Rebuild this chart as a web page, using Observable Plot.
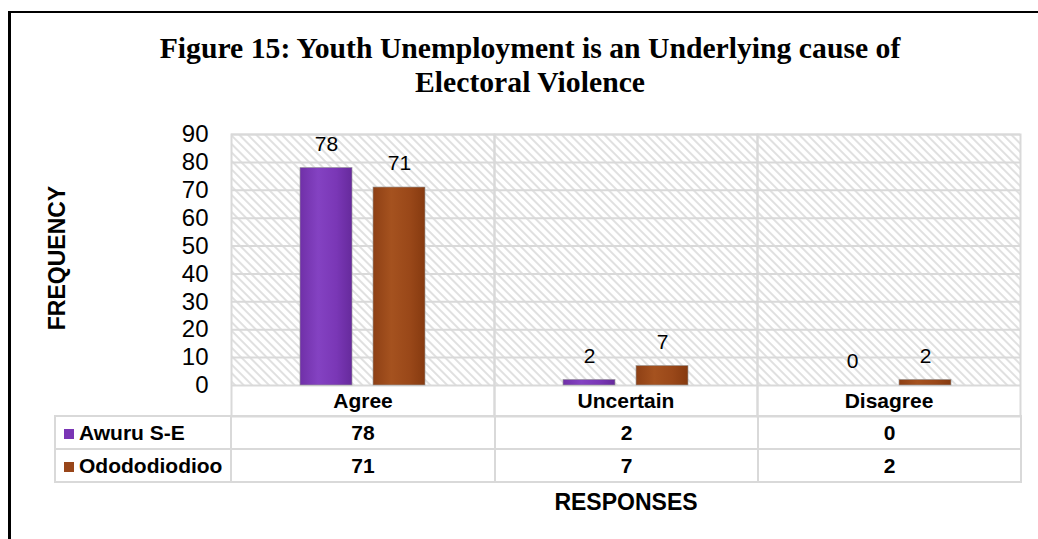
<!DOCTYPE html>
<html>
<head>
<meta charset="utf-8">
<script src="https://cdn.jsdelivr.net/npm/d3@7"></script>
<script src="https://cdn.jsdelivr.net/npm/@observablehq/plot@0.6"></script>
<style>
  html, body { margin: 0; padding: 0; background: #fff; }
  body { width: 1038px; height: 539px; overflow: hidden; position: relative; font-family: Arial, "Liberation Sans", sans-serif; }
  #frame { position: absolute; left: 8px; top: 11px; width: 1100px; height: 600px; border-left: 3px solid #000; border-top: 2px solid #000; }
  #title { position: absolute; left: 0; top: 31px; width: 1060px; text-align: center; font-family: "Liberation Serif", "Times New Roman", serif; font-weight: bold; font-size: 29.7px; line-height: 34px; color: #000; }
  #chart { position: absolute; left: 0; top: 110px; }
  #ylabel { position: absolute; left: 57px; top: 258px; transform: translate(-50%, -50%) rotate(-90deg); font-weight: bold; font-size: 23px; white-space: nowrap; }
  #xlabel { position: absolute; left: 626px; top: 502px; transform: translate(-50%, -50%); font-weight: bold; font-size: 23px; white-space: nowrap; }
  #table { position: absolute; left: 54px; top: 415px; border-collapse: collapse; table-layout: fixed; }
  #table td { border: 2px solid #d9d9d9; height: 31px; padding: 0; font-weight: bold; font-size: 21px; text-align: center; white-space: nowrap; }
  #table td.head { text-align: left; padding-left: 8px; }
  .key { display: inline-block; width: 10px; height: 10px; margin-right: 5px; vertical-align: 1px; }
</style>
</head>
<body>
<div id="frame"></div>
<div id="title">Figure 15: Youth Unemployment is an Underlying cause of<br>Electoral Violence</div>
<div id="chart"></div>
<div id="ylabel">FREQUENCY</div>
<table id="table"></table>
<div id="xlabel">RESPONSES</div>
<script>
const categories = ["Agree", "Uncertain", "Disagree"];
const series = ["Awuru S-E", "Odododiodioo"];
const awuruValues = [78, 2, 0];
const ododoValues = [71, 7, 2];
const yTicks = [0, 10, 20, 30, 40, 50, 60, 70, 80, 90];
const seriesColors = ["#7a35b5", "#98461a"];

const valuesBySeries = [awuruValues, ododoValues];
const data = [];
series.forEach((s, si) => categories.forEach((c, ci) => data.push({series: s, category: c, value: valuesBySeries[si][ci]})));

const defs = () => {
  const g = d3.create("svg:defs");
  g.html(`
    <pattern id="hatch" width="6" height="6" patternUnits="userSpaceOnUse" patternTransform="rotate(-45)">
      <rect width="6" height="6" fill="#ffffff"/>
      <line x1="1" y1="0" x2="1" y2="6" stroke="#d6d6d6" stroke-width="1.5"/>
    </pattern>
    <linearGradient id="gPurple" x1="0" x2="1" y1="0" y2="0">
      <stop offset="0" stop-color="#7030a8"/>
      <stop offset="0.35" stop-color="#8442c2"/>
      <stop offset="0.7" stop-color="#7a37b6"/>
      <stop offset="1" stop-color="#662a9c"/>
    </linearGradient>
    <linearGradient id="gBrown" x1="0" x2="1" y1="0" y2="0">
      <stop offset="0" stop-color="#8e4015"/>
      <stop offset="0.35" stop-color="#a5521f"/>
      <stop offset="0.7" stop-color="#9a4819"/>
      <stop offset="1" stop-color="#863a10"/>
    </linearGradient>`);
  return g.node();
};

const fills = {[series[0]]: "url(#gPurple)", [series[1]]: "url(#gBrown)"};

const chart = Plot.plot({
  width: 1038,
  height: 306,
  marginTop: 24,
  marginBottom: 31,
  marginLeft: 230,
  marginRight: 18,
  style: {fontFamily: "Arial, 'Liberation Sans', sans-serif", color: "#000", background: "transparent", overflow: "visible"},
  fx: {domain: categories, padding: 0, label: null},
  x: {domain: series, paddingInner: 0.29, paddingOuter: 0.934, axis: null},
  y: {domain: [0, 90], label: null},
  marks: [
    defs,
    Plot.frame({fill: "url(#hatch)"}),
    Plot.gridY(yTicks, {stroke: "#d9d9d9", strokeWidth: 2, strokeOpacity: 1}),
    Plot.frame({stroke: "#d9d9d9", strokeWidth: 2, insetBottom: -31}),
    ...series.map(s => Plot.barY(data.filter(d => d.series === s), {
      fx: "category", x: "series", y: "value", fill: fills[s], stroke: "#9a9a9a", strokeWidth: 0.8, strokeOpacity: 0.8
    })),
    Plot.text(data, {fx: "category", x: "series", y: "value", text: d => String(d.value), dy: -24, fontSize: 21, fill: "#000"}),
    Plot.axisY(yTicks, {tickSize: 0, tickPadding: 23, fontSize: 24, label: null}),
    Plot.axisFx({anchor: "bottom", tickSize: 0, tickPadding: 8, fontSize: 21, fontWeight: "bold", label: null})
  ]
});
document.getElementById("chart").appendChild(chart);

// data table under the chart
const table = document.getElementById("table");
const colgroup = document.createElement("colgroup");
[176, 264, 263, 263].forEach(w => { const col = document.createElement("col"); col.style.width = w + "px"; colgroup.appendChild(col); });
table.appendChild(colgroup);
series.forEach((s, si) => {
  const tr = document.createElement("tr");
  const th = document.createElement("td");
  th.className = "head";
  const key = document.createElement("span");
  key.className = "key";
  key.style.background = seriesColors[si];
  th.appendChild(key);
  th.appendChild(document.createTextNode(s));
  tr.appendChild(th);
  valuesBySeries[si].forEach(v => { const td = document.createElement("td"); td.textContent = v; tr.appendChild(td); });
  table.appendChild(tr);
});
</script>
</body>
</html>
